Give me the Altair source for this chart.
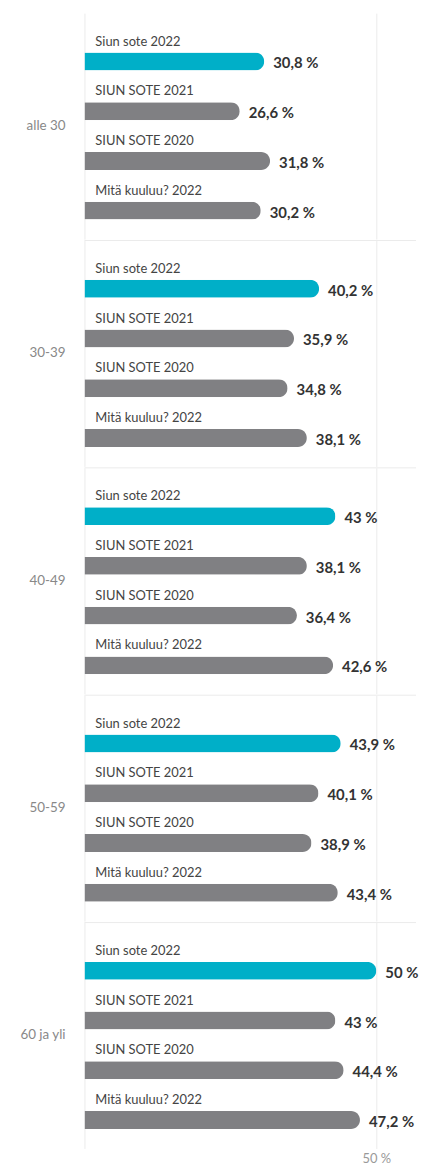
import altair as alt
import pandas as pd

groups = ["alle 30", "30-39", "40-49", "50-59", "60 ja yli"]
series = ["Siun sote 2022", "SIUN SOTE 2021", "SIUN SOTE 2020", "Mitä kuuluu? 2022"]
v_siun_2022 = [30.8, 40.2, 43.0, 43.9, 50.0]
v_siun_2021 = [26.6, 35.9, 38.1, 40.1, 43.0]
v_siun_2020 = [31.8, 34.8, 36.4, 38.9, 44.4]
v_mk_2022 = [30.2, 38.1, 42.6, 43.4, 47.2]
series_colors = ["#00AFC8", "#808083", "#808083", "#808083"]

rows = []
for s, vals in zip(series, [v_siun_2022, v_siun_2021, v_siun_2020, v_mk_2022]):
    for g, v in zip(groups, vals):
        rows.append({"group": g, "series": s, "value": v})
df = pd.DataFrame(rows)

W = 334
H = 227.5
FONT = "Lato"
LINE = "#ebebeb"

x = alt.X(
    "value:Q",
    title=None,
    scale=alt.Scale(domain=[0, 56.8], nice=False, zero=True),
    axis=alt.Axis(
        values=[0, 50],
        labelExpr="datum.value == 50 ? '50 %' : ''",
        grid=True,
        gridColor=LINE,
        domain=False,
        ticks=False,
        labelColor="#999999",
        labelFontSize=13,
        labelPadding=4,
        labelFont=FONT,
    ),
)
y = alt.Y(
    "series:N",
    sort=series,
    scale=alt.Scale(paddingInner=0, paddingOuter=0.27, align=0.87),
    axis=None,
)

base = alt.Chart()

sep = (
    base.mark_rule(color=LINE)
    .transform_filter(f"datum.group != '{groups[0]}'")
    .transform_aggregate(n="count()", groupby=["group"])
    .encode(x=alt.value(0), x2=alt.value(W), y=alt.value(0))
)

group_labels = (
    base.mark_text(align="right", baseline="middle", dx=-19, fontSize=13.5, color="#888888", font=FONT)
    .transform_aggregate(n="count()", groupby=["group"])
    .encode(x=alt.value(0), y=alt.value(H / 2), text="group:N")
)

bars = base.mark_bar(size=18, cornerRadiusEnd=9).encode(
    x=x,
    y=y,
    color=alt.Color("series:N", scale=alt.Scale(domain=series, range=series_colors), legend=None),
)

names = base.mark_text(
    align="left", baseline="middle", dx=11, dy=-20, fontSize=13, color="#444444", font=FONT
).encode(x=alt.value(0), y=y, text="series:N")

vals = (
    base.mark_text(
        align="left", baseline="middle", dx=9, dy=2, fontSize=15, fontWeight="bold",
        color="#333333", font=FONT,
    )
    .transform_calculate(label="replace(format(datum.value, '.1~f'), '.', ',') + ' %'")
    .encode(x=x, y=y, text="label:N")
)

layer = alt.layer(sep, group_labels, bars, names, vals, data=df).properties(width=W, height=H)

chart = (
    layer.facet(
        row=alt.Row(
            "group:N",
            sort=groups,
            title=None,
            header=alt.Header(labels=False),
        ),
        spacing=0,
    )
    .properties(padding={"left": 11, "top": 0, "right": 0, "bottom": 0})
    .configure_view(stroke="transparent")
)

chart.save("out.html", embed_options={"renderer": "svg", "actions": False})
